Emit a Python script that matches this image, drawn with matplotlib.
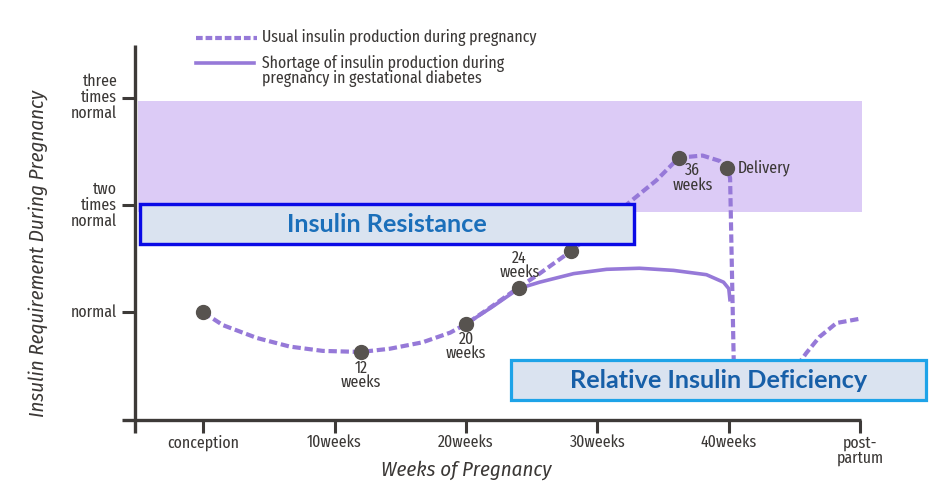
import matplotlib
matplotlib.use('Agg')
import matplotlib.pyplot as plt
from matplotlib.patches import Rectangle
from matplotlib.lines import Line2D

# ---------------- data ----------------
usual_weeks = [0, 1.5, 4.1, 6.6, 9.1, 12, 14.2, 16.7, 18.8, 20, 21.8, 24, 25.6, 28,
               32.5, 34.5, 36.2, 38, 39.3, 39.9, 40.1, 40.4]
usual_level = [1.0, 0.88, 0.76, 0.68, 0.64, 0.63, 0.66, 0.72, 0.81, 0.89, 1.04, 1.23, 1.36, 1.57,
               2.03, 2.23, 2.44, 2.46, 2.41, 2.34, 2.25, 0.40]
postpartum_weeks = [45.2, 45.9, 46.9, 48.2, 50.0]
postpartum_level = [0.50, 0.62, 0.77, 0.90, 0.94]
gdm_weeks = [20, 22, 24, 25.6, 28.2, 30.7, 33.2, 35.8, 38.3, 39.6, 40.0, 40.1]
gdm_level = [0.89, 1.05, 1.22, 1.28, 1.36, 1.40, 1.41, 1.39, 1.35, 1.28, 1.22, 1.10]
milestone_weeks = [0, 12, 20, 24, 28, 36.2, 39.9]
milestone_level = [1.0, 0.63, 0.89, 1.23, 1.57, 2.44, 2.34]
milestone_labels = ['', '12\nweeks', '20\nweeks', '24\nweeks', '', '36\nweeks', 'Delivery']
x_ticks = [0, 10, 20, 30, 40, 50]
x_tick_labels = ['conception', '10weeks', '20weeks', '30weeks', '40weeks', 'post-\npartum']
y_ticks = [1, 2, 3]
y_tick_labels = ['normal', 'two\ntimes\nnormal', 'three\ntimes\nnormal']
band_range = [1.93, 2.97]
legend_labels = ['Usual insulin production during pregnancy',
                 'Shortage of insulin production during\npregnancy in gestational diabetes']
box_labels = ['Insulin Resistance', 'Relative Insulin Deficiency']

# ---------------- style ----------------
W, H = 943, 501
NARROW = ['Fira Sans Extra Condensed', 'Fira Sans Condensed', 'PT Sans Narrow', 'Liberation Sans']
TITLEF = ['Fira Sans Condensed', 'PT Sans Narrow', 'Liberation Sans']
BOLDF = ['Lato', 'DejaVu Sans']
TXT = '#3b3836'
AXC = '#3d3a38'
PURPLE = '#9679d8'
DOT = '#57534f'
BAND = '#dccbf6'
FS = 12.4
LS = 1.0

def fx(px):
    return px / W

def fy(py):
    return 1 - py / H

fig = plt.figure(figsize=(W / 100, H / 100), dpi=100)
fig.patch.set_facecolor('white')

ax_l, ax_r, ax_t, ax_b = 121.7, 861.5, 45, 433
ax = fig.add_axes([fx(ax_l), fy(ax_b), (ax_r - ax_l) / W, (ax_b - ax_t) / H])
ax.set_xlim(-6.2, 50.1)
ax.set_ylim(-0.125, 3.49)
ax.patch.set_alpha(0)

for s in ['top', 'right']:
    ax.spines[s].set_visible(False)
ax.spines['left'].set_position(('data', -5.17))
ax.spines['bottom'].set_position(('data', 0))
for s in ['left', 'bottom']:
    ax.spines[s].set_linewidth(2.4)
    ax.spines[s].set_color(AXC)
    ax.spines[s].set_capstyle('butt')

ax.axhspan(band_range[0], band_range[1], xmin=(-4.95 + 6.2) / 56.3, xmax=1.0,
           color=BAND, lw=0, zorder=0)

ax.set_xticks(x_ticks)
ax.set_xticklabels(x_tick_labels, family=NARROW, fontsize=FS, color=TXT,
                   va='top', linespacing=0.92)
ax.set_yticks(y_ticks)
ax.set_yticklabels(y_tick_labels, family=NARROW, fontsize=FS, color=TXT,
                   ha='right', va='center', linespacing=LS)
ax.tick_params(axis='x', direction='out', length=9.4, width=2.2, color=AXC, pad=1.5)
ax.tick_params(axis='y', direction='out', length=9.4, width=2.2, color=AXC, pad=3.5)

dash = (0, (2.0, 0.9))
ax.plot(usual_weeks, usual_level, color=PURPLE, lw=3.0, linestyle=dash, zorder=3)
ax.plot(postpartum_weeks, postpartum_level, color=PURPLE, lw=3.0, linestyle=dash, zorder=3)
ax.plot(gdm_weeks, gdm_level, color=PURPLE, lw=2.6, solid_capstyle='butt', zorder=3)
ax.plot(milestone_weeks, milestone_level, 'o', color=DOT, ms=10, mec=DOT, zorder=4)

offsets = {'12\nweeks': ((0, -8), 'center', 'top'),
           '20\nweeks': ((0, -7), 'center', 'top'),
           '24\nweeks': ((1, 7), 'center', 'bottom'),
           '36\nweeks': ((14, -5), 'center', 'top'),
           'Delivery': ((10, 1), 'left', 'center')}
for xw, yl, lab in zip(milestone_weeks, milestone_level, milestone_labels):
    if not lab:
        continue
    off, ha, va = offsets[lab]
    ax.annotate(lab, (xw, yl), xytext=off, textcoords='offset pixels', ha=ha, va=va,
                family=NARROW, fontsize=FS, color=TXT, linespacing=0.85, zorder=5)

fig.text(fx(466), fy(470), 'Weeks of Pregnancy', family=TITLEF, style='italic',
         fontsize=15, color=TXT, ha='center', va='center')
fig.text(fx(38), fy(253), 'Insulin Requirement During Pregnancy', family=TITLEF,
         style='italic', fontsize=15, color=TXT, ha='center', va='center', rotation=90)

fig.add_artist(Line2D([fx(196), fx(257)], [fy(38), fy(38)], color=PURPLE, lw=3.0,
                      linestyle=(0, (1.6, 0.7)), transform=fig.transFigure))
fig.add_artist(Line2D([fx(196), fx(254)], [fy(63), fy(63)], color=PURPLE, lw=2.6,
                      transform=fig.transFigure))
fig.text(fx(262), fy(38), legend_labels[0], family=NARROW, fontsize=FS, color=TXT,
         ha='left', va='center')
fig.text(fx(262), fy(71), legend_labels[1], family=NARROW, fontsize=FS, color=TXT,
         ha='left', va='center', linespacing=0.9)

def box(x0, y0, x1, y1, edge, lw_px, text, tcolor):
    r = Rectangle((fx(x0), fy(y1)), fx(x1) - fx(x0), fy(y0) - fy(y1),
                  transform=fig.transFigure, facecolor='#dae3f0', edgecolor=edge,
                  linewidth=lw_px * 0.72, zorder=10)
    fig.add_artist(r)
    fig.text(fx((x0 + x1) / 2), fy((y0 + y1) / 2 + 1), text, family=BOLDF, weight='bold',
             fontsize=18.2, color=tcolor, ha='center', va='center', zorder=11)

box(140, 203.5, 634, 243.5, '#0a0ae6', 3.4, box_labels[0], '#1b6fba')
box(511, 360, 926, 400, '#1ea3e8', 3.2, box_labels[1], '#175fa8')

fig.savefig('out.png', dpi=100)
